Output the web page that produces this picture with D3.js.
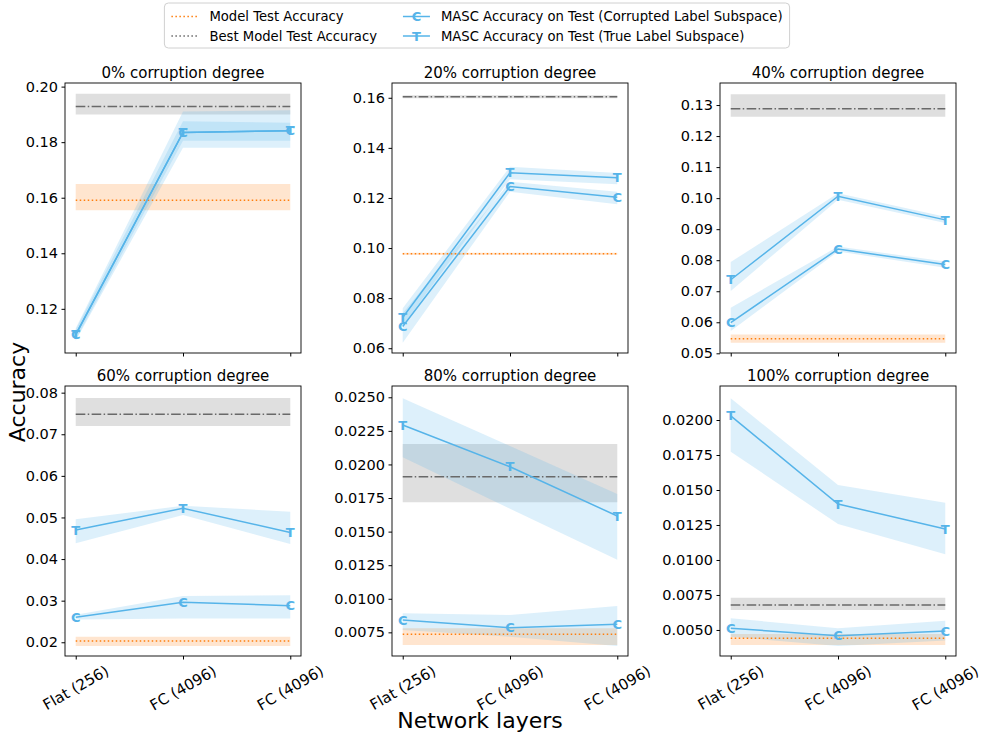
<!DOCTYPE html>
<html>
<head>
<meta charset="utf-8">
<script src="https://d3js.org/d3.v7.min.js"></script>
<style>
  body { margin: 0; background: #fff; }
  svg { font-family: "DejaVu Sans", sans-serif; }
</style>
</head>
<body>
<svg id="chart" width="987" height="740"></svg>
<script>
// categories on the x axis (same for every panel)
var categories = ["Flat (256)", "FC (4096)", "FC (4096)"];
var titles = ["0% corruption degree", "20% corruption degree", "40% corruption degree",
              "60% corruption degree", "80% corruption degree", "100% corruption degree"];

// horizontal reference: model test accuracy (mean, band low, band high)
var modelAcc = [0.1591, 0.0977, 0.0547, 0.0203, 0.00735, 0.00441];
var modelLo  = [0.1555, 0.0973, 0.0534, 0.0191, 0.00656, 0.00393];
var modelHi  = [0.1649, 0.0981, 0.0561, 0.0213, 0.00780, 0.00471];

// horizontal reference: best model test accuracy
var bestAcc = [0.1928, 0.1604, 0.1288, 0.0748, 0.01909, 0.00679];
var bestLo  = [0.1900, 0.1598, 0.1262, 0.0720, 0.01718, 0.00643];
var bestHi  = [0.1974, 0.1610, 0.1335, 0.0787, 0.02152, 0.00731];

// MASC accuracy, corrupted label subspace
var corrAcc = [[0.1107, 0.1835, 0.1841], [0.0687, 0.1246, 0.1203], [0.0599, 0.0836, 0.0786],
               [0.0260, 0.0296, 0.0288], [0.00842, 0.00784, 0.00810], [0.00512, 0.00459, 0.00493]];
var corrLo  = [[0.1090, 0.1805, 0.1805], [0.0622, 0.1225, 0.1175], [0.0572, 0.0828, 0.0776],
               [0.0255, 0.0257, 0.0257], [0.00767, 0.00718, 0.00648], [0.00452, 0.00386, 0.00424]];
var corrHi  = [[0.1125, 0.1875, 0.1870], [0.0740, 0.1265, 0.1225], [0.0647, 0.0844, 0.0796],
               [0.0266, 0.0311, 0.0313], [0.00892, 0.00880, 0.00946], [0.00584, 0.00512, 0.00566]];

// MASC accuracy, true label subspace
var trueAcc = [[0.1107, 0.1835, 0.1841], [0.0723, 0.1301, 0.1281], [0.0737, 0.1006, 0.0930],
               [0.0470, 0.0522, 0.0464], [0.02294, 0.01983, 0.01616], [0.0203, 0.0140, 0.01221]];
var trueLo  = [[0.1085, 0.1780, 0.1780], [0.0690, 0.1275, 0.1255], [0.0701, 0.0995, 0.0920],
               [0.0438, 0.0506, 0.0436], [0.02053, 0.01671, 0.0129], [0.01774, 0.01257, 0.01041]];
var trueHi  = [[0.1130, 0.1910, 0.1915], [0.0760, 0.1325, 0.1300], [0.0794, 0.1016, 0.0940],
               [0.0496, 0.0528, 0.0514], [0.02493, 0.02137, 0.0178], [0.02155, 0.01536, 0.01409]];

// y axis limits and ticks per panel
var yLimits = [[0.1041, 0.2013], [0.0581, 0.1659], [0.0501, 0.1371],
               [0.0167, 0.0816], [0.00574, 0.02584], [0.00314, 0.02243]];
var yTicks = [[0.12, 0.14, 0.16, 0.18, 0.20],
              [0.06, 0.08, 0.10, 0.12, 0.14, 0.16],
              [0.05, 0.06, 0.07, 0.08, 0.09, 0.10, 0.11, 0.12, 0.13],
              [0.02, 0.03, 0.04, 0.05, 0.06, 0.07, 0.08],
              [0.0075, 0.0100, 0.0125, 0.0150, 0.0175, 0.0200, 0.0225, 0.0250],
              [0.0050, 0.0075, 0.0100, 0.0125, 0.0150, 0.0175, 0.0200]];
var yDecimals = [2, 2, 2, 2, 4, 4];

var BLUE = "#56b4e9", ORANGE = "#ff7f0e", GRAY = "#696969";

var svg = d3.select("#chart");
var LEFTS = [65, 392, 720], TOPS = [83, 386], W = 236, H = 270;

titles.forEach(function (title, p) {
    var col = p % 3, row = Math.floor(p / 3);
    var g = svg.append("g").attr("transform", "translate(" + LEFTS[col] + "," + TOPS[row] + ")");

    var x = d3.scaleLinear().domain([-0.1, 2.1]).range([0, W]);
    var y = d3.scaleLinear().domain(yLimits[p]).range([H, 0]);
    var idx = d3.range(categories.length);

    var area = function (lo, hi) {
        return d3.area().x(function (i) { return x(i); })
            .y0(function (i) { return y(lo[i]); })
            .y1(function (i) { return y(hi[i]); })(idx);
    };
    var flat = function (v) { return idx.map(function () { return v; }); };
    var line = d3.line().x(function (d, i) { return x(i); }).y(function (d) { return y(d); });

    var clip = "clip" + p;
    g.append("clipPath").attr("id", clip).append("rect").attr("width", W).attr("height", H);
    var plot = g.append("g").attr("clip-path", "url(#" + clip + ")");

    // bands
    plot.append("path").attr("d", area(flat(bestLo[p]), flat(bestHi[p])))
        .attr("fill", "gray").attr("fill-opacity", 0.25);
    plot.append("path").attr("d", area(flat(modelLo[p]), flat(modelHi[p])))
        .attr("fill", ORANGE).attr("fill-opacity", 0.2);
    plot.append("path").attr("d", area(corrLo[p], corrHi[p]))
        .attr("fill", BLUE).attr("fill-opacity", 0.2);
    plot.append("path").attr("d", area(trueLo[p], trueHi[p]))
        .attr("fill", BLUE).attr("fill-opacity", 0.2);

    // reference lines
    plot.append("path").attr("d", line(flat(modelAcc[p])))
        .attr("fill", "none").attr("stroke", ORANGE).attr("stroke-width", 1.5)
        .attr("stroke-dasharray", "1.5,2.5");
    plot.append("path").attr("d", line(flat(bestAcc[p])))
        .attr("fill", "none").attr("stroke", GRAY).attr("stroke-width", 1.5)
        .attr("stroke-dasharray", "9.6,2.4,1.5,2.4");

    // MASC series
    [[trueAcc[p], "T"], [corrAcc[p], "C"]].forEach(function (s) {
        plot.append("path").attr("d", line(s[0]))
            .attr("fill", "none").attr("stroke", BLUE).attr("stroke-width", 1.5);
        g.selectAll(null).data(s[0]).enter().append("text")
            .attr("x", function (d, i) { return x(i); })
            .attr("y", function (d) { return y(d); })
            .attr("dy", "0.36em")
            .attr("text-anchor", "middle")
            .attr("font-size", 13).attr("font-weight", "bold")
            .attr("fill", BLUE)
            .text(s[1]);
    });

    // frame
    g.append("rect").attr("width", W).attr("height", H)
        .attr("fill", "none").attr("stroke", "#000").attr("stroke-width", 0.9);

    // y axis
    var fmt = d3.format("." + yDecimals[p] + "f");
    var yAxis = g.append("g").call(d3.axisLeft(y).tickValues(yTicks[p]).tickFormat(fmt)
        .tickSize(3.5).tickPadding(3.5));
    yAxis.select(".domain").remove();
    yAxis.selectAll("text").attr("font-size", 14.5).attr("font-family", "DejaVu Sans").attr("fill", "#000");

    // x axis
    var xAxis = g.append("g").attr("transform", "translate(0," + H + ")")
        .call(d3.axisBottom(x).tickValues(idx).tickFormat("").tickSize(3.5));
    xAxis.select(".domain").remove();

    if (row === 1) {
        idx.forEach(function (i) {
            var t = g.append("text")
                .attr("font-size", 15).attr("text-anchor", "middle").attr("dy", "0.35em")
                .text(categories[i]);
            var w = t.node().getComputedTextLength();
            var bh = w * 0.5 + 15 * 0.866;
            t.attr("transform", "translate(" + x(i) + "," + (H + 7 + bh / 2) + ") rotate(-30)");
        });
    }

    // title
    g.append("text").attr("x", W / 2).attr("y", -5)
        .attr("text-anchor", "middle").attr("font-size", 15).text(title);
});

// figure labels
svg.append("text").attr("x", 480).attr("y", 728).attr("text-anchor", "middle")
    .attr("font-size", 22).text("Network layers");
svg.append("text").attr("transform", "translate(25,392) rotate(-90)").attr("text-anchor", "middle")
    .attr("font-size", 22).text("Accuracy");

// legend
var legendItems = [
    { label: "Model Test Accuracy", kind: "model" },
    { label: "Best Model Test Accuracy", kind: "best" },
    { label: "MASC Accuracy on Test (Corrupted Label Subspace)", kind: "C" },
    { label: "MASC Accuracy on Test (True Label Subspace)", kind: "T" }
];
var lg = svg.append("g");
var box = lg.append("rect").attr("rx", 4).attr("fill", "#fff")
    .attr("stroke", "#d0d0d0").attr("stroke-width", 1);
var colX = [0, 0], handleLen = 27, textPad = 11, colGap = 26, pad = 7;
var colW = [0, 0];
var texts = legendItems.map(function (it, k) {
    var t = lg.append("text").attr("font-size", 13.2).attr("dy", "0.35em").text(it.label);
    var c = Math.floor(k / 2);
    colW[c] = Math.max(colW[c], t.node().getComputedTextLength());
    return t;
});
var totalW = pad * 2 + handleLen * 2 + textPad * 2 + colW[0] + colW[1] + colGap;
var lx = 477 - totalW / 2;
colX[0] = lx + pad;
colX[1] = colX[0] + handleLen + textPad + colW[0] + colGap;
box.attr("x", lx).attr("y", 3).attr("width", totalW).attr("height", 45);
legendItems.forEach(function (it, k) {
    var c = Math.floor(k / 2), r = k % 2;
    var yy = 16.5 + r * 19.5;
    var hx = colX[c];
    var ln = lg.append("line").attr("x1", hx).attr("x2", hx + handleLen)
        .attr("y1", yy).attr("y2", yy).attr("stroke-width", 1.5);
    if (it.kind === "model") ln.attr("stroke", ORANGE).attr("stroke-dasharray", "1.5,2.5");
    else if (it.kind === "best") ln.attr("stroke", GRAY).attr("stroke-dasharray", "1.5,2.5");
    else {
        ln.attr("stroke", BLUE);
        lg.append("text").attr("x", hx + handleLen / 2).attr("y", yy).attr("dy", "0.36em")
            .attr("text-anchor", "middle").attr("font-size", 13).attr("font-weight", "bold")
            .attr("fill", BLUE).text(it.kind);
    }
    texts[k].attr("x", hx + handleLen + textPad).attr("y", yy);
});
</script>
</body>
</html>
